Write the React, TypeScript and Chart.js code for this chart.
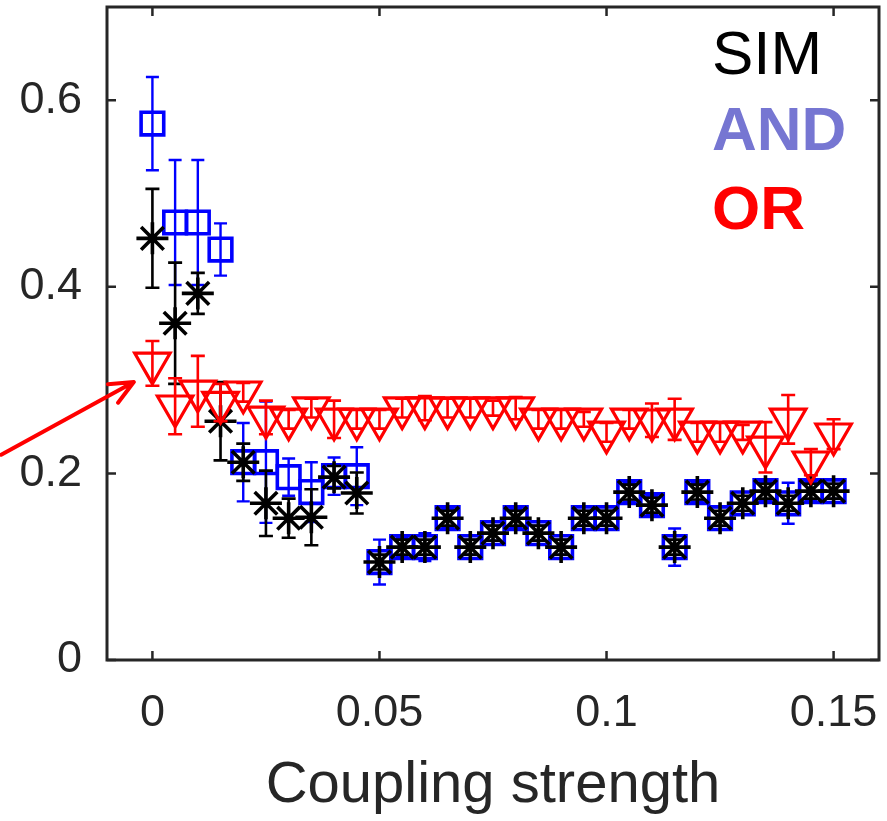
import { useEffect, useRef } from 'react';
import { Chart, registerables } from 'chart.js';

Chart.register(...registerables);

const couplingStrength = [
  0, 0.005, 0.01, 0.015, 0.02, 0.025, 0.03, 0.035, 0.04, 0.045,
  0.05, 0.055, 0.06, 0.065, 0.07, 0.075, 0.08, 0.085, 0.09, 0.095,
  0.1, 0.105, 0.11, 0.115, 0.12, 0.125, 0.13, 0.135, 0.14, 0.145, 0.15,
];

const simValues = [
  0.452, 0.361, 0.393, 0.256, 0.212, 0.168, 0.152, 0.153, 0.196, 0.179,
  0.105, 0.121, 0.121, 0.152, 0.121, 0.136, 0.152, 0.136, 0.121, 0.152,
  0.152, 0.18, 0.166, 0.121, 0.18, 0.152, 0.168, 0.181, 0.168, 0.181, 0.181,
];
const simErrors = [
  0.053, 0.065, 0.022, 0.042, 0.02, 0.035, 0.021, 0.03, 0.012, 0.022,
  0.008, 0.008, 0.008, 0.008, 0.008, 0.008, 0.008, 0.008, 0.008, 0.008,
  0.008, 0.008, 0.008, 0.008, 0.008, 0.008, 0.008, 0.008, 0.008, 0.008, 0.008,
];

const andValues = [
  0.575, 0.469, 0.469, 0.44, 0.212, 0.212, 0.196, 0.18, 0.197, 0.197,
  0.105, 0.121, 0.121, 0.152, 0.121, 0.136, 0.152, 0.136, 0.121, 0.152,
  0.152, 0.18, 0.166, 0.121, 0.18, 0.152, 0.168, 0.181, 0.168, 0.181, 0.181,
];
const andErrors = [
  0.05, 0.067, 0.067, 0.028, 0.042, 0.065, 0.02, 0.032, 0.02, 0.031,
  0.024, 0.01, 0.015, 0.01, 0.008, 0.008, 0.01, 0.008, 0.008, 0.008,
  0.008, 0.01, 0.01, 0.02, 0.01, 0.012, 0.012, 0.01, 0.022, 0.01, 0.008,
];

const orValues = [
  0.318, 0.272, 0.288, 0.276, 0.287, 0.26, 0.258, 0.27, 0.258, 0.258,
  0.258, 0.27, 0.27, 0.27, 0.27, 0.27, 0.27, 0.258, 0.258, 0.258,
  0.244, 0.258, 0.257, 0.258, 0.244, 0.244, 0.244, 0.228, 0.258, 0.212, 0.242,
];
const orErrors = [
  0.024, 0.03, 0.038, 0.02, 0.01, 0.018, 0.01, 0.01, 0.02, 0.01,
  0.01, 0.01, 0.013, 0.01, 0.01, 0.008, 0.012, 0.01, 0.01, 0.008,
  0.01, 0.01, 0.018, 0.022, 0.01, 0.01, 0.008, 0.027, 0.026, 0.014, 0.016,
];

const xTicks = [0, 0.05, 0.1, 0.15];
const yTicks = [0, 0.2, 0.4, 0.6];
const xRange = [-0.01, 0.16];
const yRange = [0, 0.7];

const legendLabels = ['SIM', 'AND', 'OR'];
const legendColors = ['#000000', '#7676D2', '#FF0000'];
const legendWeights = ['normal', 'bold', 'bold'];

// arrow annotation (data coordinates): tail -> tip
const arrowTail = { x: -0.0333, y: 0.22 };
const arrowTip = { x: -0.0041, y: 0.298 };

const FONT = '"Liberation Sans", Arial, Helvetica, sans-serif';
const AXIS_COLOR = '#262626';

const toPoints = (vals: number[]) => couplingStrength.map((x, i) => ({ x, y: vals[i] }));

const errorBarPlugin = {
  id: 'errorBars',
  afterDatasetDraw(chart: any, args: any) {
    const ds: any = chart.data.datasets[args.index];
    if (!ds.errors) return;
    const ctx = chart.ctx;
    const ys = chart.scales.y;
    ctx.save();
    ctx.strokeStyle = ds.errColor;
    ctx.lineWidth = ds.errWidth;
    const cap = ds.errCap;
    args.meta.data.forEach((pt: any, i: number) => {
      const v = ds.data[i].y;
      const e = ds.errors[i];
      const px = pt.x;
      const top = ys.getPixelForValue(v + e);
      const bot = ys.getPixelForValue(v - e);
      ctx.beginPath();
      ctx.moveTo(px, top);
      ctx.lineTo(px, bot);
      ctx.moveTo(px - cap, top);
      ctx.lineTo(px + cap, top);
      ctx.moveTo(px - cap, bot);
      ctx.lineTo(px + cap, bot);
      ctx.stroke();
    });
    ctx.restore();
  },
};

const boxPlugin = {
  id: 'boxTicks',
  afterDraw(chart: any) {
    const { ctx, chartArea: a } = chart;
    const xs = chart.scales.x;
    const ys = chart.scales.y;
    const tl = 9;
    ctx.save();
    ctx.strokeStyle = AXIS_COLOR;
    ctx.lineWidth = 3;
    ctx.lineCap = 'square';
    ctx.beginPath();
    ctx.rect(a.left, a.top, a.right - a.left, a.bottom - a.top);
    ctx.stroke();
    ctx.lineWidth = 2.5;
    ctx.lineCap = 'butt';
    ctx.beginPath();
    xTicks.forEach((t) => {
      const p = xs.getPixelForValue(t);
      ctx.moveTo(p, a.bottom);
      ctx.lineTo(p, a.bottom - tl);
      ctx.moveTo(p, a.top);
      ctx.lineTo(p, a.top + tl);
    });
    yTicks.forEach((t) => {
      const p = ys.getPixelForValue(t);
      ctx.moveTo(a.left, p);
      ctx.lineTo(a.left + tl, p);
      ctx.moveTo(a.right, p);
      ctx.lineTo(a.right - tl, p);
    });
    ctx.stroke();

    // legend text
    const lx = a.right - 167;
    const baselines = [a.top + 67, a.top + 143, a.top + 222];
    ctx.textAlign = 'left';
    ctx.textBaseline = 'alphabetic';
    legendLabels.forEach((lab, i) => {
      ctx.font = `${legendWeights[i]} 62px ${FONT}`;
      ctx.fillStyle = legendColors[i];
      ctx.fillText(lab, lx, baselines[i]);
    });

    // arrow
    const tx = xs.getPixelForValue(arrowTail.x);
    const ty = ys.getPixelForValue(arrowTail.y);
    const hx = xs.getPixelForValue(arrowTip.x);
    const hy = ys.getPixelForValue(arrowTip.y);
    const ang = Math.atan2(ty - hy, tx - hx);
    const hl = 26;
    const ha = (24 * Math.PI) / 180;
    ctx.strokeStyle = '#FF0000';
    ctx.lineWidth = 4;
    ctx.lineCap = 'round';
    ctx.lineJoin = 'round';
    ctx.beginPath();
    ctx.moveTo(tx, ty);
    ctx.lineTo(hx, hy);
    ctx.moveTo(hx + hl * Math.cos(ang - ha), hy + hl * Math.sin(ang - ha));
    ctx.lineTo(hx, hy);
    ctx.lineTo(hx + hl * Math.cos(ang + ha), hy + hl * Math.sin(ang + ha));
    ctx.stroke();
    ctx.restore();
  },
};

export default function App() {
  const ref = useRef<HTMLCanvasElement | null>(null);

  useEffect(() => {
    if (!ref.current) return;
    const chart = new Chart(ref.current, {
      type: 'scatter',
      data: {
        datasets: [
          {
            label: 'OR',
            data: toPoints(orValues),
            pointStyle: 'triangle',
            rotation: 180,
            pointRadius: 20.5,
            borderColor: '#FF0000',
            backgroundColor: 'rgba(0,0,0,0)',
            borderWidth: 3.2,
            showLine: false,
            errors: orErrors,
            errColor: '#FF0000',
            errWidth: 2.6,
            errCap: 7,
          } as any,
          {
            label: 'SIM',
            data: toPoints(simValues),
            pointStyle: 'star',
            pointRadius: 16,
            borderColor: '#000000',
            backgroundColor: 'rgba(0,0,0,0)',
            borderWidth: 3.6,
            showLine: false,
            errors: simErrors,
            errColor: '#000000',
            errWidth: 2.6,
            errCap: 7,
          } as any,
          {
            label: 'AND',
            data: toPoints(andValues),
            pointStyle: 'rect',
            pointRadius: 16,
            borderColor: '#0000FF',
            backgroundColor: 'rgba(0,0,0,0)',
            borderWidth: 3.6,
            showLine: false,
            errors: andErrors,
            errColor: '#0000FF',
            errWidth: 2.4,
            errCap: 6.5,
          } as any,
        ],
      },
      options: {
        responsive: false,
        animation: false,
        layout: { autoPadding: false, padding: { top: 7, right: 8, left: 0, bottom: 0 } },
        plugins: {
          legend: { display: false },
          tooltip: { enabled: false },
        },
        scales: {
          x: {
            type: 'linear',
            min: xRange[0],
            max: xRange[1],
            afterBuildTicks: (s: any) => {
              s.ticks = xTicks.map((v) => ({ value: v }));
            },
            afterFit: (s: any) => {
              s.height = 161;
              s.paddingLeft = 0;
              s.paddingRight = 0;
              s.paddingTop = 0;
              s.paddingBottom = 0;
            },
            grid: { display: false, drawTicks: false },
            border: { display: false },
            ticks: {
              autoSkip: false,
              maxRotation: 0,
              padding: 27,
              color: AXIS_COLOR,
              font: { family: FONT, size: 45 },
              callback: (v: any) => String(v),
            },
            title: {
              display: true,
              text: 'Coupling strength',
              color: AXIS_COLOR,
              font: { family: FONT, size: 58 },
              padding: { top: 0, bottom: 0 },
            },
          },
          y: {
            type: 'linear',
            min: yRange[0],
            max: yRange[1],
            afterBuildTicks: (s: any) => {
              s.ticks = yTicks.map((v) => ({ value: v }));
            },
            afterFit: (s: any) => {
              s.width = 107;
              s.paddingLeft = 0;
              s.paddingRight = 0;
              s.paddingTop = 0;
              s.paddingBottom = 0;
            },
            grid: { display: false, drawTicks: false },
            border: { display: false },
            ticks: {
              autoSkip: false,
              padding: 25,
              color: AXIS_COLOR,
              font: { family: FONT, size: 45 },
              callback: (v: any) => String(v),
            },
          },
        },
      },
      plugins: [errorBarPlugin, boxPlugin],
    });
    return () => chart.destroy();
  }, []);

  return (
    <div style={{ position: 'fixed', left: 0, top: 0, width: 887, height: 821, background: '#fff' }}>
      <canvas ref={ref} width={887} height={821} style={{ display: 'block' }} />
    </div>
  );
}
